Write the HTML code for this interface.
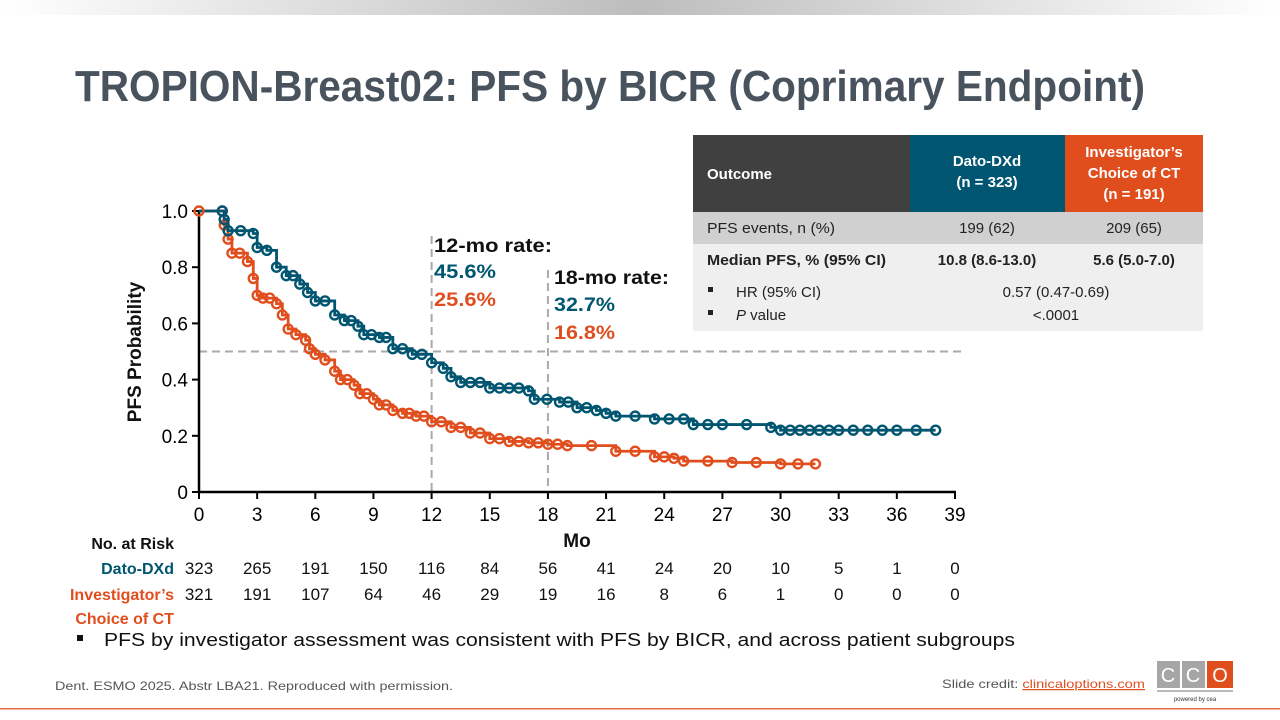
<!DOCTYPE html>
<html><head><meta charset="utf-8"><style>
html,body{margin:0;padding:0;background:#fff;}
svg{display:block;font-family:"Liberation Sans",sans-serif;}
</style></head><body>
<svg id="s" width="1280" height="720" viewBox="0 0 1280 720" xmlns="http://www.w3.org/2000/svg">
<defs><linearGradient id="g" x1="0" x2="1"><stop offset="0" stop-color="#fff"/><stop offset="0.5" stop-color="#bdbdbd"/><stop offset="1" stop-color="#fff"/></linearGradient></defs>
<rect x="0" y="0" width="1280" height="15" fill="url(#g)"/>
<text x="75" y="101" font-size="44" font-weight="bold" fill="#48535d" textLength="1070" lengthAdjust="spacingAndGlyphs">TROPION-Breast02: PFS by BICR (Coprimary Endpoint)</text>

<!-- table -->
<rect x="693" y="135" width="217" height="77" fill="#404040"/>
<rect x="910" y="135" width="155" height="77" fill="#005570"/>
<rect x="1065" y="135" width="138" height="77" fill="#e04e1e"/>
<rect x="693" y="212" width="510" height="32" fill="#d0d0d0"/>
<rect x="693" y="244" width="510" height="87" fill="#efefef"/>
<g font-size="15" fill="#fff" font-weight="bold">
<text x="707" y="179">Outcome</text>
<text x="987" y="166" text-anchor="middle">Dato-DXd</text>
<text x="987" y="187" text-anchor="middle">(n = 323)</text>
<text x="1134" y="157" text-anchor="middle">Investigator’s</text>
<text x="1134" y="178" text-anchor="middle">Choice of CT</text>
<text x="1134" y="199" text-anchor="middle">(n = 191)</text>
</g>
<g font-size="15" fill="#222">
<text x="707" y="233" textLength="128" lengthAdjust="spacingAndGlyphs">PFS events, n (%)</text>
<text x="987" y="233" text-anchor="middle">199 (62)</text>
<text x="1134" y="233" text-anchor="middle">209 (65)</text>
<text x="707" y="265" font-weight="bold" textLength="179" lengthAdjust="spacingAndGlyphs">Median PFS, % (95% CI)</text>
<text x="987" y="265" text-anchor="middle" font-weight="bold">10.8 (8.6-13.0)</text>
<text x="1134" y="265" text-anchor="middle" font-weight="bold">5.6 (5.0-7.0)</text>
<rect x="708" y="287" width="5" height="5"/><text x="736" y="297">HR (95% CI)</text>
<rect x="708" y="310" width="5" height="5"/><text x="736" y="320"><tspan font-style="italic">P</tspan> value</text>
<text x="1056" y="297" text-anchor="middle">0.57 (0.47-0.69)</text>
<text x="1056" y="320" text-anchor="middle">&lt;.0001</text>
</g>

<g id="chart"></g>

<text transform="translate(141,352) rotate(-90)" font-size="19" font-weight="bold" text-anchor="middle" fill="#111">PFS Probability</text>
<text x="577" y="547" font-size="19" font-weight="bold" text-anchor="middle" fill="#111">Mo</text>

<g font-size="19" font-weight="bold">
<text x="434" y="252" fill="#111" textLength="118" lengthAdjust="spacingAndGlyphs">12-mo rate:</text>
<text x="434" y="278" fill="#005570" textLength="62" lengthAdjust="spacingAndGlyphs">45.6%</text>
<text x="434" y="306" fill="#e04e1e" textLength="62" lengthAdjust="spacingAndGlyphs">25.6%</text>
<text x="554" y="284" fill="#111" textLength="115" lengthAdjust="spacingAndGlyphs">18-mo rate:</text>
<text x="554" y="311" fill="#005570" textLength="61" lengthAdjust="spacingAndGlyphs">32.7%</text>
<text x="554" y="339" fill="#e04e1e" textLength="61" lengthAdjust="spacingAndGlyphs">16.8%</text>
</g>

<g font-size="16" font-weight="bold">
<text x="174" y="549" text-anchor="end" fill="#111">No. at Risk</text>
<text x="174" y="574" text-anchor="end" fill="#005570">Dato-DXd</text>
<text x="174" y="600" text-anchor="end" fill="#e04e1e">Investigator’s</text>
<text x="174" y="624" text-anchor="end" fill="#e04e1e">Choice of CT</text>
</g>
<g id="risk" font-size="17" fill="#111" text-anchor="middle"></g>

<rect x="77" y="635" width="6" height="6" fill="#111"/>
<text x="104" y="646" font-size="18" fill="#111" textLength="911" lengthAdjust="spacingAndGlyphs">PFS by investigator assessment was consistent with PFS by BICR, and across patient subgroups</text>
<text x="55" y="690" font-size="12" fill="#555" textLength="398" lengthAdjust="spacingAndGlyphs">Dent. ESMO 2025. Abstr LBA21. Reproduced with permission.</text>
<text x="942" y="688" font-size="12" fill="#555" textLength="203" lengthAdjust="spacingAndGlyphs">Slide credit: <tspan fill="#e04e1e" text-decoration="underline">clinicaloptions.com</tspan></text>
<rect x="1157" y="661" width="23" height="27" fill="#a6a6a6"/>
<rect x="1182" y="661" width="23" height="27" fill="#a6a6a6"/>
<rect x="1207" y="661" width="26" height="27" fill="#e04e1e"/>
<g font-size="20" fill="#fff" text-anchor="middle"><text x="1168" y="682">C</text><text x="1193" y="682">C</text><text x="1220" y="682">O</text></g>
<rect x="1157" y="690" width="76" height="2" fill="#bbb"/>
<text x="1195" y="701" font-size="6" fill="#333" text-anchor="middle">powered by cea</text>
<rect x="0" y="708" width="1280" height="1.5" fill="#e07040"/>
</svg>
<script>
const X=m=>199+m*756/39, Y=p=>492-p*281;
let h='';
h+=`<line x1="199" y1="${Y(0.5)}" x2="963" y2="${Y(0.5)}" stroke="#aaa" stroke-width="2" stroke-dasharray="8,5"/>`;
h+=`<line x1="${X(12)}" y1="236" x2="${X(12)}" y2="492" stroke="#aaa" stroke-width="2" stroke-dasharray="8,5"/>`;
h+=`<line x1="${X(18)}" y1="270" x2="${X(18)}" y2="492" stroke="#aaa" stroke-width="2" stroke-dasharray="8,5"/>`;
h+=`<line x1="199" y1="210" x2="199" y2="493" stroke="#000" stroke-width="2.5"/>`;
h+=`<line x1="198" y1="492" x2="956" y2="492" stroke="#000" stroke-width="2.5"/>`;
for(let i=0;i<=5;i++){let y=Y(i*0.2);h+=`<line x1="192" y1="${y}" x2="199" y2="${y}" stroke="#000" stroke-width="2"/><text x="188" y="${y+7}" font-size="19" text-anchor="end">${i==0?'0':(i*0.2).toFixed(1)}</text>`;}
for(let m=0;m<=39;m+=3){let x=X(m);h+=`<line x1="${x}" y1="492" x2="${x}" y2="499" stroke="#000" stroke-width="2"/><text x="${x}" y="521" font-size="19" text-anchor="middle">${m}</text>`;}
const T=[[0,1],[1.2,1],[1.3,.97],[1.5,.93],[2.8,.92],[3,.87],[3.5,.86],[4,.8],[4.5,.77],[5.2,.74],[5.6,.71],[6,.68],[7,.63],[7.5,.61],[8.2,.59],[8.5,.56],[9.3,.55],[10,.51],[11,.49],[12,.46],[12.6,.44],[13,.41],[13.5,.39],[14.5,.39],[15,.37],[16,.37],[17,.36],[17.3,.33],[18.6,.32],[19.5,.30],[20.5,.29],[21,.28],[21.5,.27],[23.5,.26],[25,.26],[25.5,.24],[27,.24],[29.5,.23],[30,.22],[31,.22],[32,.22],[33,.22],[34.5,.22],[36,.22],[38,.22]];
const O=[[0,1],[1.2,1],[1.3,.95],[1.5,.9],[1.7,.85],[2.5,.82],[2.8,.76],[3,.7],[3.3,.69],[4,.67],[4.3,.63],[4.6,.58],[5,.56],[5.5,.54],[5.7,.51],[6,.49],[6.5,.47],[7,.43],[7.3,.40],[8,.38],[8.3,.35],[9,.33],[9.3,.31],[10,.29],[10.5,.28],[11.2,.27],[12,.25],[13,.23],[14,.21],[15,.19],[16,.18],[17,.175],[18,.17],[19,.165],[21.5,.145],[23.5,.125],[24.5,.12],[25,.11],[27.5,.105],[30,.10],[31.8,.10]];
function curve(d,c){let p=`M${X(d[0][0])},${Y(d[0][1])}`;for(let i=1;i<d.length;i++){p+=`H${X(d[i][0])}V${Y(d[i][1])}`;}
let s=`<path d="${p}" fill="none" stroke="${c}" stroke-width="2.8"/>`;
for(let i=1;i<d.length;i++){s+=`<circle cx="${X(d[i][0])}" cy="${Y(d[i][1])}" r="4.5" fill="none" stroke="${c}" stroke-width="2.4"/>`;if(i<d.length-1&&d[i+1][0]-d[i][0]>0.6)s+=`<circle cx="${X((d[i][0]+d[i+1][0])/2)}" cy="${Y(d[i][1])}" r="4.5" fill="none" stroke="${c}" stroke-width="2.4"/>`;}
return s;}
h+=curve(O,'#e04e1e')+curve(T,'#005570');
h+=`<circle cx="${X(0)}" cy="${Y(1)}" r="4.5" fill="none" stroke="#e04e1e" stroke-width="2.4"/>`;
document.getElementById('chart').innerHTML=h;
const a=[323,265,191,150,116,84,56,41,24,20,10,5,1,0],b=[321,191,107,64,46,29,19,16,8,6,1,0,0,0];
let r='';a.forEach((v,i)=>{r+=`<text x="${X(i*3)}" y="574">${v}</text><text x="${X(i*3)}" y="600">${b[i]}</text>`;});
document.getElementById('risk').innerHTML=r;
</script>
</body></html>
